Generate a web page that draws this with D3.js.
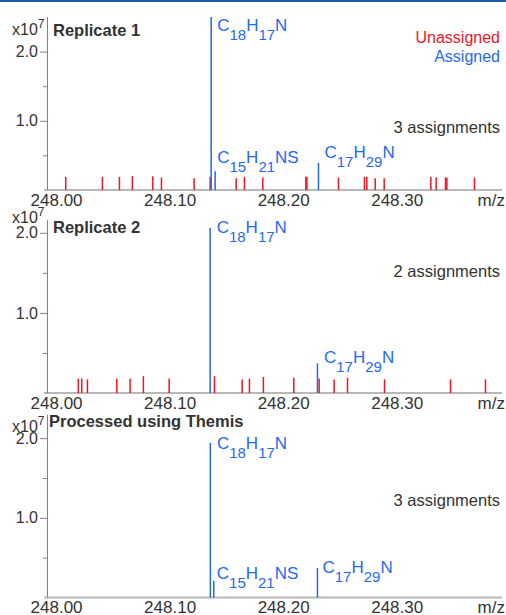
<!DOCTYPE html>
<html>
<head>
<meta charset="utf-8">
<script src="https://cdn.jsdelivr.net/npm/d3@7"></script>
<style>
  body { margin: 0; background: #fff; }
  svg { display: block; font-family: 'Liberation Sans', Arial, Helvetica, sans-serif; }
</style>
</head>
<body>
<svg id="chart" width="506" height="615"></svg>
<script>
// m/z ticks and intensity ticks (x10^7)
const xTicks = [248.00, 248.10, 248.20, 248.30];
const yTicks = [0.5, 1.0, 1.5, 2.0];

// replicate 1
const rep1Unassigned = [
  [248.0085, 0.19], [248.0408, 0.19], [248.0558, 0.19], [248.0672, 0.20],
  [248.0852, 0.20], [248.0928, 0.18], [248.1216, 0.17], [248.1357, 0.19],
  [248.1586, 0.17], [248.1659, 0.19], [248.1821, 0.18], [248.2200, 0.19],
  [248.2209, 0.19], [248.2487, 0.18], [248.2716, 0.19], [248.2737, 0.19],
  [248.2811, 0.17], [248.2890, 0.17], [248.3301, 0.19], [248.3348, 0.18],
  [248.3430, 0.18], [248.3442, 0.18], [248.3685, 0.18]
];
const rep1Assigned = [
  [248.1366, 2.50, 'C18H17N'],
  [248.1401, 0.27, 'C15H21NS'],
  [248.2311, 0.39, 'C17H29N']
];

// replicate 2
const rep2Unassigned = [
  [248.0196, 0.18], [248.0226, 0.18], [248.0276, 0.17], [248.0535, 0.18],
  [248.0652, 0.18], [248.0769, 0.21], [248.0996, 0.18], [248.1395, 0.21],
  [248.1639, 0.17], [248.1703, 0.18], [248.1826, 0.20], [248.2094, 0.19],
  [248.2317, 0.18], [248.2449, 0.17], [248.2567, 0.19], [248.2893, 0.17],
  [248.3474, 0.17], [248.3782, 0.17]
];
const rep2Assigned = [
  [248.1357, 2.06, 'C18H17N'],
  [248.2302, 0.37, 'C17H29N']
];

// processed
const themisUnassigned = [];
const themisAssigned = [
  [248.1359, 1.94, 'C18H17N'],
  [248.1389, 0.21, 'C15H21NS'],
  [248.2302, 0.37, 'C17H29N']
];

const titles = ['Replicate 1', 'Replicate 2', 'Processed using Themis'];
const notes = ['3 assignments', '2 assignments', '3 assignments'];

const RED = '#f2141f';
const BLUE = '#1f6af0';
const TEXT = '#333';

// label offsets (px) relative to peak top
const labelOffsets = [
  [[6, 14], [2, -8], [6, -5]],
  [[6.5, 5], [6.5, 0]],
  [[6.5, 6], [3, -2], [5, 5]]
];

const panels = [
  { red: rep1Unassigned, blue: rep1Assigned, top: 17, bottom: 190, yMax: 2.5, titleX: 53, titleY: 36, expY: 35, noteY: 133 },
  { red: rep2Unassigned, blue: rep2Assigned, top: 220, bottom: 393, yMax: 2.16, titleX: 53, titleY: 233, expY: 223, noteY: 277 },
  { red: themisUnassigned, blue: themisAssigned, top: 415, bottom: 597.5, yMax: 2.29, titleX: 49, titleY: 427, expY: 432, noteY: 506 }
];

const svg = d3.select('#chart');
svg.append('rect').attr('x', 0).attr('y', 0).attr('width', 506).attr('height', 2).attr('fill', '#1d5aa8');

const x = d3.scaleLinear().domain([247.992, 248.391]).range([47, 500]);

const drawFormula = (g, str, px, py) => {
  let text = g.append('text')
    .attr('x', px)
    .attr('y', py)
    .attr('fill', BLUE)
    .attr('font-size', 17);
  let parts = str.match(/[A-Z][a-z]?\d*/g);
  let low = false;
  parts.forEach((p) => {
    let el = p.match(/[A-Z][a-z]?/)[0];
    let num = p.slice(el.length);
    text.append('tspan').attr('dy', low ? -9 : 0).text(el);
    low = false;
    if (num) {
      text.append('tspan').attr('dy', 9).attr('font-size', 15).text(num);
      low = true;
    }
  });
};

const drawPanel = (panel, index) => {
  let y = d3.scaleLinear().domain([0, panel.yMax]).range([panel.bottom, panel.top]);
  let g = svg.append('g').attr('class', `panel-${index}`);

  // baseline
  g.append('line')
    .attr('x1', x.range()[0] - 3)
    .attr('x2', x.range()[1] + 2)
    .attr('y1', panel.bottom)
    .attr('y2', panel.bottom)
    .attr('stroke', '#b8b8b8')
    .attr('stroke-width', 2);

  // y axis
  let yAxis = g.append('g')
    .attr('transform', `translate(${x.range()[0]},0)`)
    .call(d3.axisLeft(y).tickValues(yTicks).tickSize(7).tickSizeOuter(0).tickPadding(2)
      .tickFormat(d => (d % 1 === 0 ? d.toFixed(1) : '')));
  yAxis.attr('font-family', null).attr('font-size', 16);
  yAxis.select('.domain').attr('stroke', '#808080').attr('d', `M0.5,${panel.top}V${panel.bottom}`);
  yAxis.selectAll('.tick line').attr('stroke', '#808080')
    .attr('x2', d => (d % 1 === 0 ? -7 : -4));
  yAxis.selectAll('.tick text').attr('fill', TEXT);

  // x axis labels
  let xAxis = g.append('g')
    .attr('transform', `translate(0,${panel.bottom})`)
    .call(d3.axisBottom(x).tickValues(xTicks).tickSize(0).tickPadding(3.5).tickFormat(d3.format('.2f')));
  xAxis.attr('font-family', null).attr('font-size', 17);
  xAxis.select('.domain').remove();
  xAxis.selectAll('.tick text').attr('fill', TEXT);
  g.append('text')
    .attr('x', 505)
    .attr('y', panel.bottom + 15.5)
    .attr('text-anchor', 'end')
    .attr('font-size', 17)
    .attr('fill', TEXT)
    .text('m/z');

  // exponent
  let exp = g.append('text')
    .attr('x', 12)
    .attr('y', panel.expY)
    .attr('font-size', 16)
    .attr('fill', TEXT)
    .text('x10');
  exp.append('tspan').attr('dy', -7).attr('font-size', 12).text('7');

  // title and note
  g.append('text')
    .attr('x', panel.titleX)
    .attr('y', panel.titleY)
    .attr('font-size', 16.5)
    .attr('font-weight', 'bold')
    .attr('fill', TEXT)
    .text(titles[index]);
  g.append('text')
    .attr('x', 500)
    .attr('y', panel.noteY)
    .attr('text-anchor', 'end')
    .attr('font-size', 16.5)
    .attr('fill', TEXT)
    .text(notes[index]);

  // unassigned peaks
  g.selectAll('.red-peak')
    .data(panel.red)
    .enter().append('line')
    .attr('class', 'red-peak')
    .attr('x1', d => x(d[0]))
    .attr('x2', d => x(d[0]))
    .attr('y1', y(0))
    .attr('y2', d => y(d[1]))
    .attr('stroke', RED)
    .attr('stroke-width', 1.5);

  // assigned peaks
  g.selectAll('.blue-peak')
    .data(panel.blue)
    .enter().append('line')
    .attr('class', 'blue-peak')
    .attr('x1', d => x(d[0]))
    .attr('x2', d => x(d[0]))
    .attr('y1', y(0))
    .attr('y2', d => y(d[1]))
    .attr('stroke', BLUE)
    .attr('stroke-width', 1.5);

  panel.blue.forEach((d, i) => {
    let off = labelOffsets[index][i];
    drawFormula(g, d[2], x(d[0]) + off[0], y(d[1]) + off[1]);
  });
};

panels.forEach(drawPanel);

// legend
svg.append('text')
  .attr('x', 500).attr('y', 43)
  .attr('text-anchor', 'end')
  .attr('font-size', 16)
  .attr('fill', RED)
  .text('Unassigned');
svg.append('text')
  .attr('x', 500).attr('y', 62)
  .attr('text-anchor', 'end')
  .attr('font-size', 16)
  .attr('fill', BLUE)
  .text('Assigned');
</script>
</body>
</html>
